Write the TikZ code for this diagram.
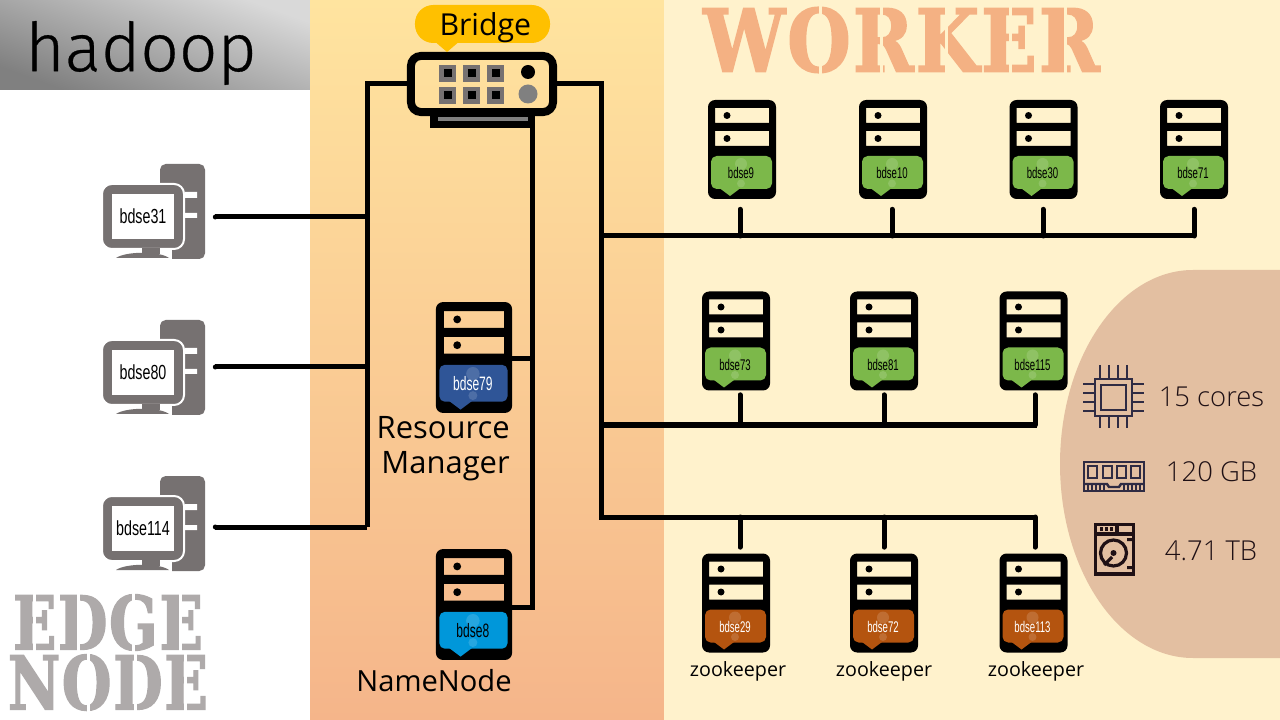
\documentclass[tikz,border=0pt]{standalone}
\usepackage{fontspec}
\setmainfont{Open Sans}
\newfontfamily\hostfont{Liberation Sans}
\newfontfamily\logofont[FakeBold=0.4]{Fira Sans Light}
\newfontfamily\specfont{Open Sans Light}
\newfontfamily\stencilfont[LetterSpace=3,BoldFeatures={FakeBold=2.2}]{DejaVu Serif}
\usetikzlibrary{positioning}
\newcommand{\pu}{0.7113pt}
\definecolor{edgegrey}{HTML}{AEAAAA}
\definecolor{pcgrey}{HTML}{767171}
\definecolor{workerorange}{HTML}{F4B183}
\definecolor{workerbg}{HTML}{FFF2CC}
\definecolor{mastertop}{HTML}{FFE49F}
\definecolor{masterbottom}{HTML}{F5B58A}
\definecolor{specbg}{HTML}{E3BFA1}
\definecolor{specink}{HTML}{1F1015}
\definecolor{chipink}{HTML}{2F2B43}
\definecolor{tagyellow}{HTML}{FFC000}
\definecolor{taggreen}{HTML}{7CB84A}
\definecolor{tagorange}{HTML}{B4540F}
\definecolor{tagnavy}{HTML}{2F5597}
\definecolor{tagblue}{HTML}{0097DA}
\tikzset{
  wire/.style={line width=5*\pu,line cap=round,black},
  bus/.style={line width=5*\pu,line cap=butt,line join=miter,black},
  rackbody/.style={minimum width=68*\pu,minimum height=99*\pu,inner sep=0pt},
  pcbody/.style={minimum width=103*\pu,minimum height=95*\pu,inner sep=0pt},
  hostlabel/.style={font=\hostfont\fontsize{11}{11}\selectfont,inner sep=0pt},
  caption/.style={font=\fontsize{22}{24.9}\selectfont,inner sep=0pt,align=right},
  zoolabel/.style={font=\fontsize{14}{16}\selectfont,inner sep=0pt},
  spectext/.style={font=\specfont\fontsize{19.5}{21}\selectfont,text=specink,inner sep=0pt},
  pin/.style={chipink,line width=2*\pu},
  chipline/.style={draw=chipink,line width=2.4*\pu},
  diskline/.style={draw=specink,line width=3.2*\pu},
}
% one server: name, centre x, centre y, scale, tag colour, text colour
\newcommand{\rack}[6]{
  \begin{scope}[shift={(#2,#3)},scale=#4]
    \node[rackbody,transform shape] (#1) at (0,0) {};
    \fill[black,even odd rule] [rounded corners=5pt] (-34,-49.5) rectangle (34,49.5)
      [sharp corners] (-27,-41.5) rectangle (27,-26.5) (-27,-18.5) rectangle (27,-3.5);
    \fill (-15,-34) circle (3.5) (-15,-11) circle (3.5);
    \fill[#5] [rounded corners=4pt] (-31,6.5) rectangle (30,39.5);
    \fill[#5] (-22,39) -- (-12,46.5) -- (-2,39) -- cycle;
    \fill[white,opacity=0.15] (-1,14.5) circle (6) (-1,34) circle (4);
    \node[hostlabel,text=#6,transform shape,scale=#4] (#1text) at (-1,23.5) {\scalebox{0.62}[1]{#1}};
  \end{scope}
}
% one desktop: name, left x, top y
\newcommand{\desktop}[3]{
  \begin{scope}[shift={(#2,#3)}]
    \node[pcbody] (#1) at (51.5,47.5) {};
    \fill[pcgrey,rounded corners=4pt] (58,0) rectangle (103,95);
    \fill[white] (83,28) rectangle (95,34) (83,49) rectangle (95,54);
    \fill[white] (56,76) rectangle (70,97);
    \fill[pcgrey,draw=white,line width=2*\pu,rounded corners=7pt] (0,20) rectangle (82,85);
    \fill[pcgrey] (40,84) rectangle (58,90);
    \fill[pcgrey] (14,94) .. controls (24,87) and (58,87) .. (67,94) -- cycle;
    \node[fill=white,minimum width=61*\pu,minimum height=45*\pu,inner sep=0pt,
      font=\hostfont\fontsize{14.5}{14.5}\selectfont] (#1text) at (41,52.5) {\scalebox{0.7}[1]{#1}};
  \end{scope}
}
\begin{document}
\begin{tikzpicture}[x=0.025cm,y=-0.025cm]
  \useasboundingbox (0,0) rectangle (1280,720);
  % Backgrounds
  \fill[white] (0,0) rectangle (310,720);
  \shade[top color=white!85!black,bottom color=black!50,shading angle=-20] (0,0) rectangle (310,90);
  \shade[top color=mastertop,bottom color=masterbottom] (310,0) rectangle (664,720);
  \fill[workerbg] (664,0) rectangle (1280,720);
  \fill[specbg] (1280,270) -- (1193,270) .. controls (1119.5,270) and (1060,357) .. (1060,464)
    .. controls (1060,571) and (1119.5,658) .. (1193,658) -- (1280,658) -- cycle;

  % Titles
  \node[inner sep=0pt,font=\logofont\fontsize{48}{48}\selectfont] (hadoop) at (141,53) {hadoop};
  \node[inner sep=0pt,text=workerorange,font=\stencilfont\bfseries] (worker) at (901.5,40)
    {\resizebox{282pt}{45.5pt}{WORKER}};
  \node[inner sep=0pt,text=edgegrey,font=\stencilfont\bfseries] (edgetitle) at (108,622.5)
    {\resizebox{135pt}{39pt}{EDGE}};
  \node[inner sep=0pt,text=edgegrey,font=\stencilfont\bfseries] (nodetitle) at (108,682.5)
    {\resizebox{142pt}{39pt}{NODE}};
  % Stencil cuts
  \foreach \x in {820,881,946,1010,1065} \fill[workerbg] (\x-1.5,2) rectangle (\x+1.5,78);
  \foreach \x in {34,78,133,180} \fill[white] (\x-1.5,590) rectangle (\x+1.5,652);
  \foreach \x in {88,135,185} \fill[white] (\x-1.5,653) rectangle (\x+1.5,714);

  % Bridge
  \node[draw=black,line width=8*\pu,rounded corners=7pt,minimum width=142*\pu,minimum height=56*\pu,inner sep=0pt] (bridge) at (482,84) {};
  \node[fill=black,minimum width=105*\pu,minimum height=12*\pu,inner sep=0pt] (stand) at (482.5,122) {};
  \fill[gray] (438,117) rectangle (528,121);
  \foreach \x in {439,463,487} \foreach \y in {65,87} {
    \fill[pcgrey] (\x,\y) rectangle +(17,17);
    \fill[black] (\x+4.5,\y+4.5) rectangle +(8,8);
  }
  \fill[black] (528,72) circle (7);
  \fill[gray] (528,94) circle (9.5);
  \fill[tagyellow] (433,40) -- (447,52) -- (461,40) -- cycle;
  \node[fill=tagyellow,rounded corners=13pt,minimum width=135*\pu,minimum height=38*\pu,inner sep=0pt,text depth=0pt,font=\fontsize{21.5}{21.5}\selectfont] (bridgetag) at (482.5,24) {\hspace*{4pt}Bridge};

  % Edge nodes
  \desktop{bdse31}{102}{164}
  \desktop{bdse80}{102}{320}
  \desktop{bdse114}{102}{476}

  % Master nodes
  \rack{bdse79}{474}{357.5}{1.12}{tagnavy}{white}
  \rack{bdse8}{474}{604.5}{1.12}{tagblue}{black}
  \node[caption,anchor=north east] (rmlabel) at (510,416) {Resource\\Manager};
  \node[caption,anchor=center,font=\fontsize{20.7}{24}\selectfont] (nnlabel) at (434,681) {NameNode};

  % Workers
  \rack{bdse9}{742}{149.5}{1}{taggreen}{black}
  \rack{bdse10}{893}{149.5}{1}{taggreen}{black}
  \rack{bdse30}{1043.5}{149.5}{1}{taggreen}{black}
  \rack{bdse71}{1194}{149.5}{1}{taggreen}{black}
  \rack{bdse73}{736}{341}{1}{taggreen}{black}
  \rack{bdse81}{884}{341}{1}{taggreen}{black}
  \rack{bdse115}{1033.5}{341}{1}{taggreen}{black}
  \rack{bdse29}{736}{603}{1}{tagorange}{white}
  \rack{bdse72}{884}{603}{1}{tagorange}{white}
  \rack{bdse113}{1033.5}{603}{1}{tagorange}{white}
  \node[zoolabel] (zoo1) at (738,671) {zookeeper};
  \node[zoolabel] (zoo2) at (884,671) {zookeeper};
  \node[zoolabel] (zoo3) at (1036,671) {zookeeper};

  % Wires
  \coordinate (edgebus) at (367,527);
  \coordinate (workbus) at (601,517);
  \coordinate (busend) at (1037,517);
  \coordinate (masterbus) at (532,128);
  \coordinate (busa) at (601,236);
  \coordinate (busb) at (601,425);
  \draw[bus] (bridge.west) -| (edgebus);
  \foreach \n/\d in {bdse31/5.5,bdse80/-0.5,bdse114/3.5} {
    \coordinate (t) at ([shift={(10,\d)}]\n.east);
    \draw[bus] (edgebus |- t) -- (t);
    \fill (t) circle (2.5);
  }
  \draw[bus] (bridge.east) -| (workbus) -- (busend);
  \draw[bus] (masterbus) |- ([shift={(0,2.5)}]bdse8.east);
  \draw[bus] ([shift={(0,1.5)}]bdse79.east) -- ([shift={(0,1.5)}]bdse79.east -| masterbus);
  \draw[bus] (busa) -- (1196,236);
  \draw[bus] (busb) -- (1037,425);
  \foreach \n/\d in {bdse9/-2,bdse10/-1,bdse30/-0.5,bdse71/0} {
    \coordinate (t) at ([shift={(\d,10)}]\n.south);
    \draw[wire] (t) -- (t |- busa);
  }
  \foreach \n/\d in {bdse73/4,bdse81/0,bdse115/1.5} {
    \coordinate (t) at ([shift={(\d,4)}]\n.south);
    \draw[wire] (t) -- (t |- busb);
  }
  \foreach \n/\d in {bdse29/4,bdse72/0,bdse113/1.5} {
    \coordinate (t) at ([shift={(\d,-6)}]\n.north);
    \draw[wire] (t) -- (t |- workbus);
  }

  % Specs
  \node[spectext] (cores) at (1211.5,397) {15 cores};
  \node[spectext] (memory) at (1211.5,472) {120 GB};
  \node[spectext] (disk) at (1211,551) {4.71 TB};

  % CPU
  \draw[chipline] (1095,379) rectangle (1132,416);
  \draw[chipline] (1101,385) rectangle (1126,410);
  \foreach \k in {-13.5,-4.5,4.5,13.5} {
    \draw[pin] (1083,397.5+\k) -- (1095,397.5+\k) (1132,397.5+\k) -- (1144,397.5+\k);
    \draw[pin] (1113.5+\k,365) -- (1113.5+\k,379) (1113.5+\k,416) -- (1113.5+\k,428);
  }
  % RAM
  \draw[chipline] (1084,462) rectangle (1144,491);
  \foreach \x in {1088,1103,1117,1131} \draw[chipline] (\x,466) rectangle +(9,12);
  \draw[chipline] (1084,484) -- (1107,484) -- (1109,487) -- (1119,487) -- (1121,484) -- (1144,484);
  \foreach \x in {1088,1092,...,1104,1124,1128,...,1140} \draw[pin,line width=1.2*\pu] (\x,484) -- (\x,490);
  % Disk
  \draw[diskline] (1095.5,524.5) rectangle (1133.5,574);
  \draw[diskline] (1095.5,534) -- (1133.5,534) (1117,524.5) -- (1117,534);
  \foreach \x in {1100,1105,1110} \fill[specink] (\x,527) rectangle +(3,4);
  \draw[diskline] (1113.5,553) circle (13);
  \fill[specink] (1113.5,553) circle (3);
  \draw[diskline] (1112,557) -- (1104,565);
  \fill[specink] (1127,538) rectangle +(5,3) (1127,566) rectangle +(5,3);
\end{tikzpicture}
\end{document}
